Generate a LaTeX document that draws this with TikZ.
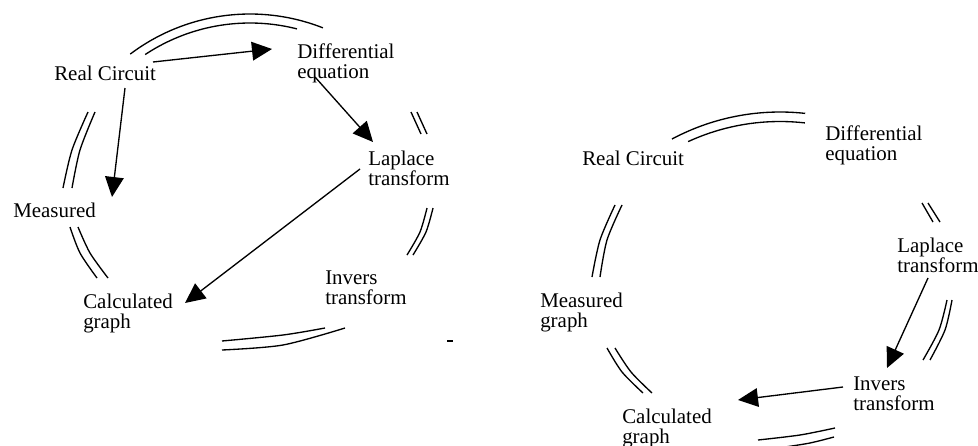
\documentclass[tikz,border=0pt]{standalone}
\usepackage{fontspec}
\setmainfont{Liberation Serif}
\usetikzlibrary{arrows.meta,calc}
\begin{document}
\begin{tikzpicture}[x=0.75pt,y=-0.75pt,
  lbl/.style={anchor=base west, inner sep=0pt, align=left, font=\fontsize{15.7}{15}\selectfont},
  ring/.style={line width=1pt},
  arr/.style={line width=1pt, -{Triangle[length=15pt,width=14pt]}}]
\useasboundingbox (0,0) rectangle (978,446);

% ---------- left cycle ----------
% (two-line labels are placed by the baseline of their last line)
\node[lbl] (rc1) at (54,80)  {Real Circuit};
\node[lbl] (de1) at (297,78) {Differential\\equation};
\node[lbl] (lt1) at (368,185) {Laplace\\transform};
\node[lbl] (me1) at (13,217) {Measured};
\node[lbl] (cg1) at (83,328) {Calculated\\graph};
\node[lbl] (it1) at (325,304) {Invers\\transform};

\draw[ring] plot[domain=127:68.5, samples=40] ({250+199*cos(\x)},{213-199*sin(\x)});
\draw[ring] plot[domain=123.5:75.7, samples=40] ({250+190*cos(\x)},{213-190*sin(\x)});
\draw[ring] plot[smooth] coordinates {(88,112) (72,150) (63,188)};
\draw[ring] plot[smooth] coordinates {(95,112) (80,150) (72,188)};
\draw[ring] plot[smooth] coordinates {(70,227) (80,253) (97,278)};
\draw[ring] plot[smooth] coordinates {(78,227) (90,253) (108,278)};
\draw[ring] plot[smooth] coordinates {(222,341) (283,335) (325,328)};
\draw[ring] plot[smooth] coordinates {(222,350) (283,345) (345,328)};
\draw[ring] (447,341) -- (453,341);
\draw[ring] plot[smooth] coordinates {(433,208) (426,232) (413,255)};
\draw[ring] plot[smooth] coordinates {(427,208) (420,232) (407,255)};
\draw[ring] (411,112) -- (421,134);
\draw[ring] (417,112) -- (427,134);

\draw[arr] ([shift={(99,-18)}]rc1.base west) -- ([shift={(-25,-29)}]de1.base west);
\draw[arr] ([shift={(71,8)}]rc1.base west) -- ([shift={(99,-20)}]me1.base west);
\draw[arr] ([shift={(18,-1)}]de1.base west) -- ([shift={(5,-43)}]lt1.base west);
\draw[arr] ([shift={(-8,-16)}]lt1.base west) -- ([shift={(102,-25)}]cg1.base west);

% ---------- right cycle ----------
\node[lbl] (rc2) at (582,165) {Real Circuit};
\node[lbl] (de2) at (825,160) {Differential\\equation};
\node[lbl] (lt2) at (897,272) {Laplace\\transform};
\node[lbl] (mg2) at (540,327) {Measured\\graph};
\node[lbl] (it2) at (853,410) {Invers\\transform};
\node[lbl] (cg2) at (622,443) {Calculated\\graph};

\draw[ring] plot[domain=118.1:83.7, samples=40] ({780+229.5*cos(\x)},{341.5-229.5*sin(\x)});
\draw[ring] plot[domain=114.7:83.5, samples=40] ({780+220*cos(\x)},{341.5-220*sin(\x)});
\draw[ring] plot[smooth] coordinates {(615,205) (600,240) (592,277)};
\draw[ring] plot[smooth] coordinates {(622,205) (607,240) (600,277)};
\draw[ring] plot[smooth] coordinates {(607,348) (622,372) (643,393)};
\draw[ring] plot[smooth] coordinates {(615,348) (631,372) (652,393)};
\draw[ring] plot[smooth] coordinates {(758,440) (800,435) (835,428)};
\draw[ring] plot[smooth] coordinates {(785,447) (810,443) (834,437)};
\draw[ring] (922,203) -- (933,222);
\draw[ring] (928,203) -- (940,222);
\draw[ring] plot[smooth] coordinates {(952,300) (945,330) (930,360)};
\draw[ring] plot[smooth] coordinates {(947,300) (939,330) (923,360)};

\draw[arr] ([shift={(31,6)}]lt2.base west) -- ([shift={(34,-42)}]it2.base west);
\draw[arr] ([shift={(-10,-23)}]it2.base west) -- ([shift={(116,-43)}]cg2.base west);
\end{tikzpicture}
\end{document}
